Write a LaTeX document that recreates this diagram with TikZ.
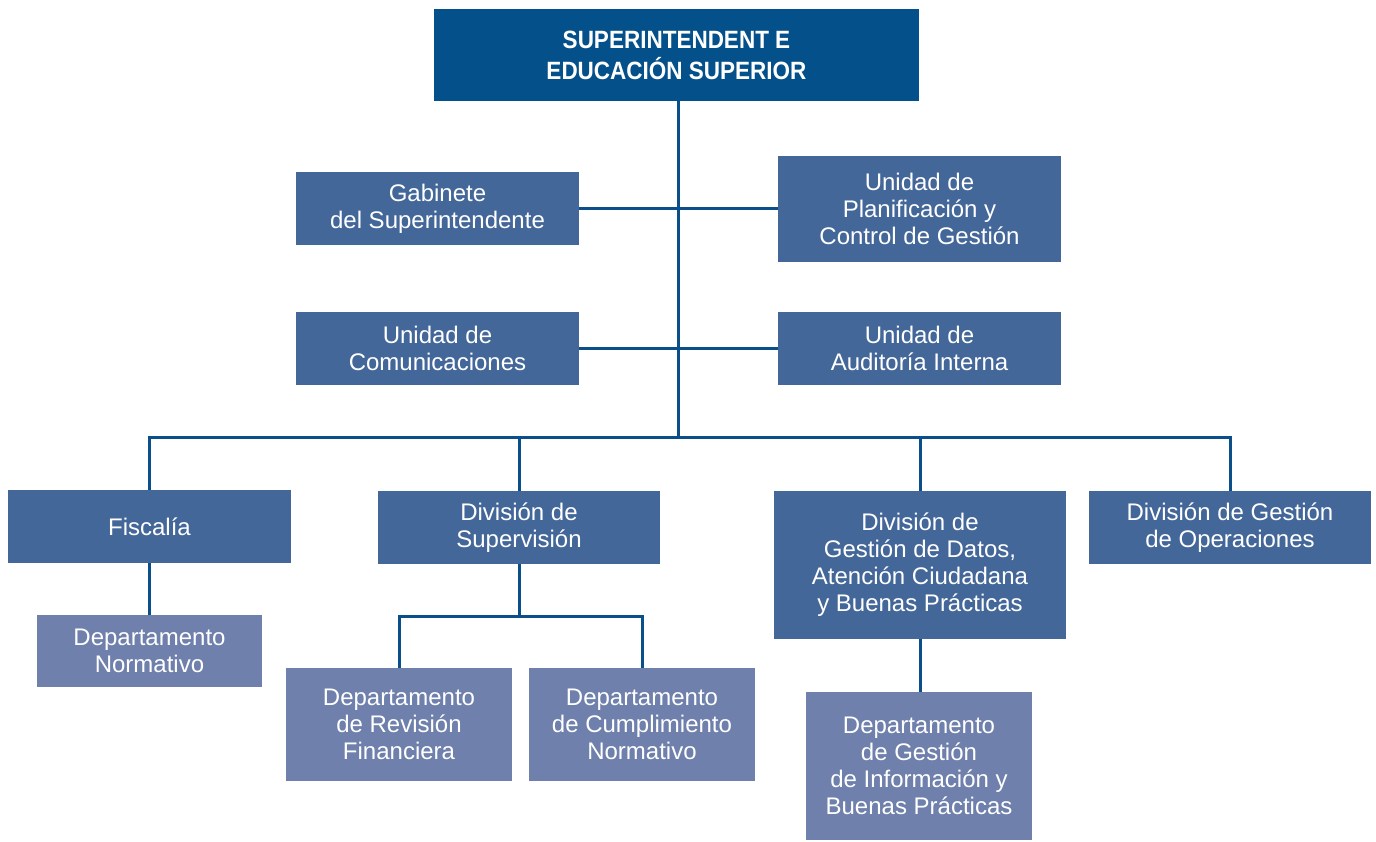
\documentclass[tikz,border=0pt]{standalone}
\usepackage{fontspec}
\setmainfont{Liberation Sans}[BoldFeatures={FakeStretch=0.9}]
\usepackage{tikz}
\definecolor{topblue}{HTML}{04508A}
\definecolor{divblue}{HTML}{446799}
\definecolor{deptblue}{HTML}{6E80AB}
\definecolor{linkblue}{HTML}{0A4F89}
\tikzset{
	divbox/.style={fill=divblue, text=white, inner sep=0pt, align=center, font=\fontsize{24}{27}\selectfont},
	deptbox/.style={divbox, fill=deptblue},
	topbox/.style={divbox, fill=topblue, font=\bfseries\fontsize{25}{31}\selectfont},
	link/.style={draw=linkblue, line width=3pt}
}

\begin{document}
\begin{tikzpicture}[x=1pt, y=-1pt]
		%%%%% START %%%%%
		\useasboundingbox (0, 0) rectangle (1376, 841);
		
		\coordinate (bus) at (678, 437);
		\coordinate (supbus) at (519, 616);
		
		% superintendente
		\node[topbox, minimum width=485, minimum height=92] (top) at (676.5, 55) {SUPERINTENDENT E\\EDUCACIÓN SUPERIOR};
		
		% unidades staff
		\node[divbox, minimum width=283, minimum height=73] (gab) at (437.5, 208.5) {Gabinete\\del Superintendente};
		\node[divbox, minimum width=283, minimum height=106] (plan) at (919.5, 208.5) {Unidad de\\Planificación y\\Control de Gestión};
		\node[divbox, minimum width=283, minimum height=73] (com) at (437.5, 348.5) {Unidad de\\Comunicaciones};
		\node[divbox, minimum width=283, minimum height=73] (aud) at (919.5, 348.5) {Unidad de\\Auditoría Interna};
		
		% divisiones
		\node[divbox, minimum width=283, minimum height=73] (fisc) at (149.5, 526.5) {Fiscalía};
		\node[divbox, minimum width=282, minimum height=73] (sup) at (519, 527.5) {División de\\Supervisión};
		\node[divbox, minimum width=292, minimum height=148] (datos) at (920, 565) {División de\\Gestión de Datos,\\Atención Ciudadana\\y Buenas Prácticas};
		\node[divbox, minimum width=282, minimum height=73] (ops) at (1230, 527.5) {División de Gestión\\de Operaciones};
		
		% departamentos
		\node[deptbox, minimum width=225, minimum height=72] (norm) at (149.5, 651) {Departamento\\Normativo};
		\node[deptbox, minimum width=226, minimum height=113] (rev) at (399, 724.5) {Departamento\\de Revisión\\Financiera};
		\node[deptbox, minimum width=226, minimum height=113] (cumpl) at (642, 724.5) {Departamento\\de Cumplimiento\\Normativo};
		\node[deptbox, minimum width=226, minimum height=148] (info) at (919, 766) {Departamento\\de Gestión\\de Información y\\Buenas Prácticas};
		
		% lineas
		\draw[link] (top.south -| bus) -- (bus);
		\draw[link] (gab.east) -- (plan.west);
		\draw[link] (com.east) -- (aud.west);
		\draw[link] (fisc.north) |- (ops.north |- bus) -- (ops.north);
		\draw[link] (sup.north) -- (sup.north |- bus);
		\draw[link] (datos.north) -- (datos.north |- bus);
		\draw[link] (fisc.south) -- (norm.north);
		\draw[link] (sup.south) -- (supbus);
		\draw[link] (rev.north) |- (supbus) -| (cumpl.north);
		\draw[link] (datos.south) -- (datos.south |- info.north);
		
		%%%%% END %%%%%
	\end{tikzpicture}
\end{document}
